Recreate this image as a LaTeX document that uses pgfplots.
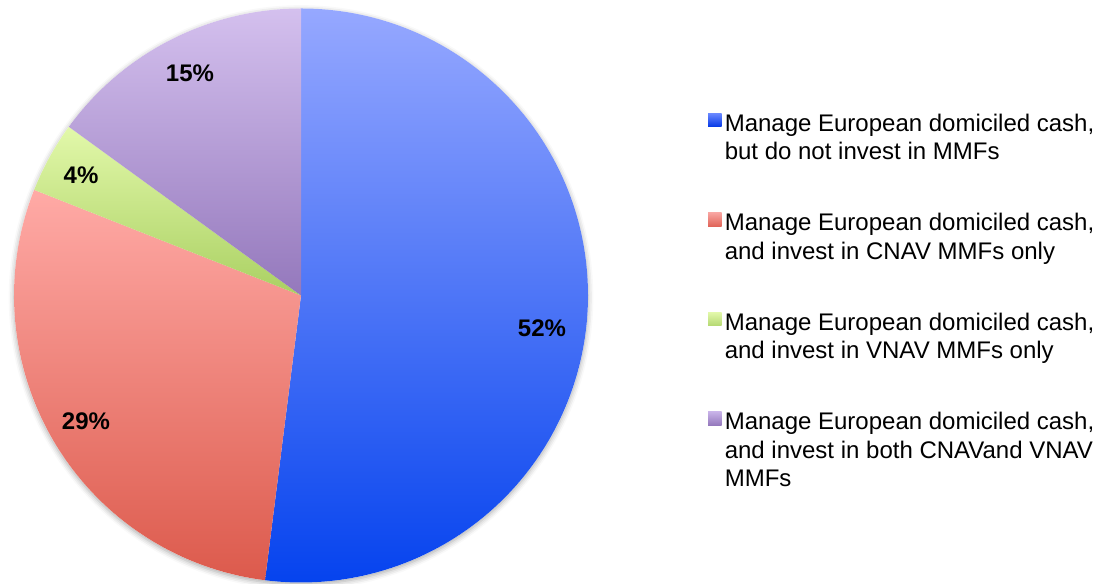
\documentclass[border=0pt]{standalone}
\usepackage{pgfplots}
\pgfplotsset{compat=1.18}
\usepackage{pgfplotstable}
\usepackage{fontspec}
\setmainfont{Liberation Sans}
\usetikzlibrary{shadows.blur}

\definecolor{top0}{HTML}{96A8FF}\definecolor{bot0}{HTML}{0442EE}
\definecolor{top1}{HTML}{FFAAA6}\definecolor{bot1}{HTML}{DC5A4C}
\definecolor{top2}{HTML}{E2F8AA}\definecolor{bot2}{HTML}{AAD062}
\definecolor{top3}{HTML}{D4C0EE}\definecolor{bot3}{HTML}{9478BC}
\definecolor{ltop0}{HTML}{6A88FF}\definecolor{lbot0}{HTML}{0438E6}
\definecolor{ltop1}{HTML}{F8A4A0}\definecolor{lbot1}{HTML}{E06458}
\definecolor{ltop2}{HTML}{E2F8AA}\definecolor{lbot2}{HTML}{B4D872}
\definecolor{ltop3}{HTML}{C8B2E8}\definecolor{lbot3}{HTML}{9478BC}

\pgfplotstableread{
share
52
29
4
15
}\piedata

\begin{document}
\begin{tikzpicture}
\begin{axis}[
  name=main,
  scale only axis, width=827.25pt, height=438pt,
  xmin=0, xmax=1103, ymin=0, ymax=584,
  hide axis, clip=false]
\addplot[draw=none, mark=none] coordinates {(0,0) (1103,584)};
\pgfplotsextra{
  % soft shadow under the pie
  \fill[white, blur shadow={shadow xshift=0pt, shadow yshift=-1.5pt, shadow blur radius=4pt, shadow opacity=35}]
     (axis cs:301,288.5) circle[radius=215.25pt];
  \xdef\startang{90}%
  \pgfplotstableforeachcolumnelement{share}\of\piedata\as\v{%
    \pgfmathsetmacro\endang{\startang - 3.6*\v}%
    \shade[top color=top\pgfplotstablerow, bottom color=bot\pgfplotstablerow]
      (axis cs:301,288.5) -- +(\startang:215.25pt)
      arc[start angle=\startang, end angle=\endang, radius=215.25pt] -- cycle;
    \xdef\startang{\endang}%
  }%
  % slice labels
  \begin{scope}[every node/.style={font=\bfseries\fontsize{18pt}{21pt}\selectfont, inner sep=0pt, anchor=center}]
    \node at (axis cs:542,{584-328.5}) {52\%};
    \node at (axis cs:86,{584-421}) {29\%};
    \node at (axis cs:81,{584-175}) {4\%};
    \node at (axis cs:190,{584-73}) {15\%};
  \end{scope}
  % legend
  \foreach \i in {0,1,2,3} {
    \shade[top color=ltop\i, bottom color=lbot\i]
      (axis cs:708,{584-126.8-99.5*\i}) rectangle (axis cs:721.5,{584-113.3-99.5*\i});
  }
  \begin{scope}[every node/.style={font=\fontsize{18pt}{21pt}\selectfont, inner sep=0pt, anchor=base west}]
    \node at (axis cs:724.5,{584-131.5}) {Manage European domiciled cash,};
    \node at (axis cs:724.5,{584-160}) {but do not invest in MMFs};
    \node at (axis cs:724.5,{584-231}) {Manage European domiciled cash,};
    \node at (axis cs:724.5,{584-259.5}) {and invest in CNAV MMFs only};
    \node at (axis cs:724.5,{584-330.5}) {Manage European domiciled cash,};
    \node at (axis cs:724.5,{584-359}) {and invest in VNAV MMFs only};
    \node at (axis cs:724.5,{584-430}) {Manage European domiciled cash,};
    \node at (axis cs:724.5,{584-458.5}) {and invest in both CNAVand VNAV};
    \node at (axis cs:724.5,{584-487}) {MMFs};
  \end{scope}
}
\end{axis}
\pgfresetboundingbox
\path (main.south west) rectangle (main.north east);
\end{tikzpicture}
\end{document}
